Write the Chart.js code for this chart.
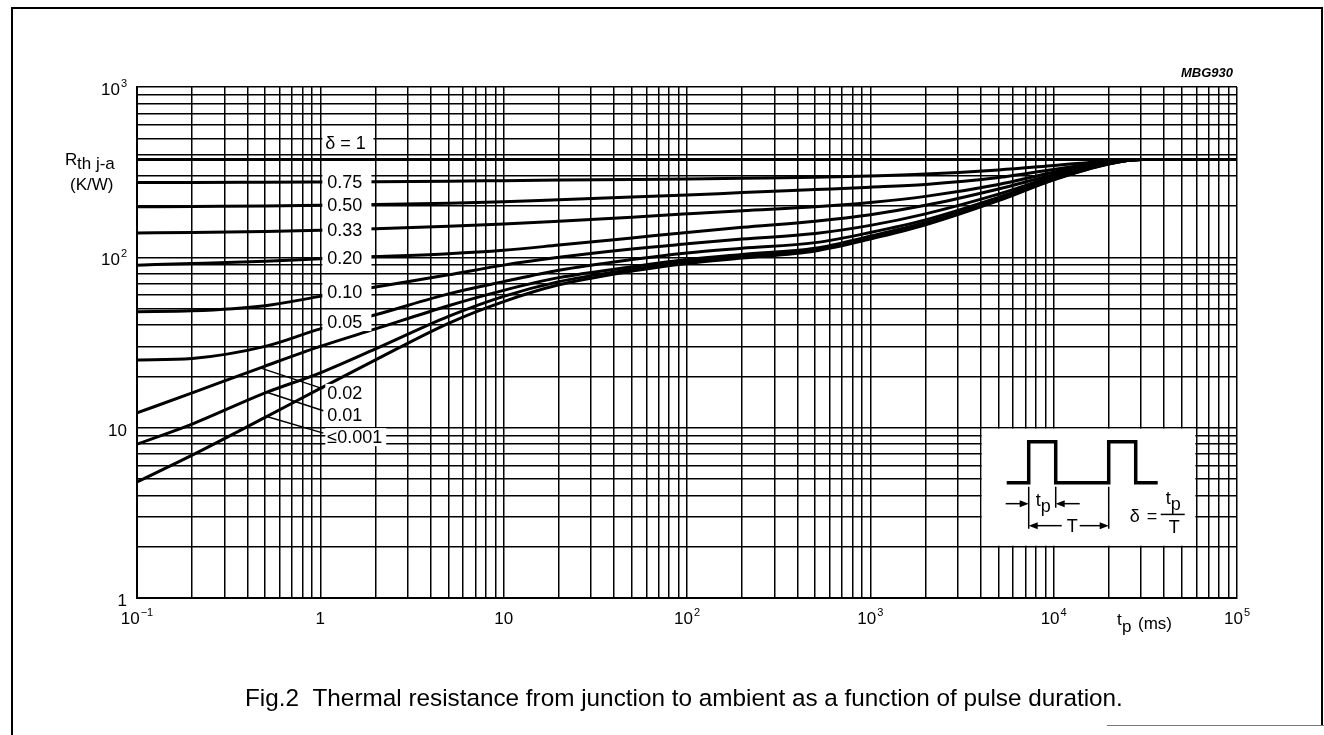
<!DOCTYPE html>
<html>
<head>
<meta charset="utf-8">
<script src="https://cdn.jsdelivr.net/npm/chart.js@4.4.0/dist/chart.umd.min.js"></script>
<style>
  html, body { margin: 0; padding: 0; background: #fff; }
  #wrap { position: relative; width: 1324px; height: 735px; }
</style>
</head>
<body>
<div id="wrap"><canvas id="rth-chart" width="1324" height="735"></canvas></div>
<script>
// pulse duration tp (ms)
const tp = [0.1, 0.2, 0.5, 1, 2, 5, 10, 20, 50, 100, 200, 500, 1000, 2000, 5000, 10000, 20000, 30000, 50000, 100000];

// Rth j-a (K/W), one curve per duty cycle
const d100  = [375, 375, 375, 375, 375, 375, 375, 375, 375, 375, 375, 375, 375, 375, 375, 375, 375, 375, 375, 375];
const d075  = [275, 275, 276, 277, 278, 280, 282, 284, 286, 288, 291, 295, 300, 308, 326, 346, 368, 375, 375, 375];
const d050  = [198, 199, 200, 202, 204, 208, 212, 218, 226, 232, 240, 250, 258, 268, 294, 328, 364, 375, 375, 375];
const d033  = [139, 140, 142, 144, 147, 152, 157, 163, 172, 180, 188, 198, 210, 228, 268, 316, 362, 375, 375, 375];
const d020  = [90, 92, 95, 98, 101, 105, 110, 118, 130, 140, 150, 163, 178, 202, 252, 306, 360, 375, 375, 375];
const d010  = [48, 48.5, 52, 59, 67, 79, 90, 100, 112, 120, 128, 138, 154, 180, 235, 298, 358, 375, 375, 375];
const d005  = [25, 25.5, 30, 38, 46, 61, 72, 84, 97, 106, 113, 122, 140, 166, 225, 292, 356, 375, 375, 375];
const d002  = [12.2, 16, 23, 30, 38, 52, 64, 76, 88, 97, 104, 113, 133, 160, 219, 288, 355, 375, 375, 375];
const d001  = [8, 10.5, 16, 21, 29, 45, 59, 72, 85, 94, 101, 111, 130, 157, 217, 286, 354, 375, 375, 375];
const d0001 = [4.8, 6.9, 11.5, 17, 25, 41, 55, 69, 83, 92, 99, 109, 128, 155, 215, 285, 353, 375, 375, 375];

const curves = [d100, d075, d050, d033, d020, d010, d005, d002, d001, d0001];
const curveLabels = ['δ = 1', '0.75', '0.50', '0.33', '0.20', '0.10', '0.05', '0.02', '0.01', '≤0.001'];

// tick labels (base + exponent)
const xTickValues = [0.1, 1, 10, 100, 1000, 10000, 100000];
const xTickBase = ['10', '1', '10', '10', '10', '10', '10'];
const xTickExp = ['−1', '', '', '2', '3', '4', '5'];
const yTickValues = [1, 10, 100, 1000];
const yTickBase = ['1', '10', '10', '10'];
const yTickExp = ['', '', '2', '3'];

const FONT = '"Liberation Sans", Arial, Helvetica, sans-serif';

// grid lines at 1..9 x 10^n
function logGrid(fromExp, toExp) {
    const vals = [];
    for (let e = fromExp; e < toExp; e++) {
        for (let s = 1; s <= 9; s++) vals.push(+(s * Math.pow(10, e)).toPrecision(3));
    }
    vals.push(Math.pow(10, toExp));
    return vals;
}

// value of a curve at x (log-log interpolation between samples)
function valueAt(series, x) {
    for (let i = 0; i < tp.length - 1; i++) {
        if (x >= tp[i] && x <= tp[i + 1]) {
            const f = Math.log(x / tp[i]) / Math.log(tp[i + 1] / tp[i]);
            return series[i] * Math.pow(series[i + 1] / series[i], f);
        }
    }
    return series[series.length - 1];
}

function drawPow(ctx, base, exp, x, y, align) {
    ctx.font = '17px ' + FONT;
    const wb = ctx.measureText(base).width;
    ctx.font = '11px ' + FONT;
    const we = exp ? ctx.measureText(exp).width + 1 : 0;
    const left = align === 'right' ? x - wb - we : x - (wb + we) / 2;
    ctx.textAlign = 'left';
    ctx.textBaseline = 'alphabetic';
    ctx.font = '17px ' + FONT;
    ctx.fillText(base, left, y);
    if (exp) {
        ctx.font = '11px ' + FONT;
        ctx.fillText(exp, left + wb + 1, y - 8);
    }
}

function arrow(ctx, x1, y, x2) {
    // line from x1 to x2, head at x2
    const dir = x2 > x1 ? 1 : -1;
    ctx.beginPath();
    ctx.moveTo(x1, y);
    ctx.lineTo(x2 - dir * 6, y);
    ctx.stroke();
    ctx.beginPath();
    ctx.moveTo(x2, y);
    ctx.lineTo(x2 - dir * 9, y - 3.5);
    ctx.lineTo(x2 - dir * 9, y + 3.5);
    ctx.closePath();
    ctx.fill();
}

const decorPlugin = {
    id: 'decor',
    afterDatasetsDraw(chart) {
        const ctx = chart.ctx;
        const xs = chart.scales.x, ys = chart.scales.y;
        const area = chart.chartArea;
        ctx.save();
        ctx.fillStyle = '#000';
        ctx.strokeStyle = '#000';

        // curve labels in white boxes
        const boxL = xs.getPixelForValue(1) + 2;
        const boxR = xs.getPixelForValue(1.9);
        curveLabels.forEach((txt, i) => {
            ctx.font = '18px ' + FONT;
            ctx.textAlign = 'left';
            ctx.textBaseline = 'middle';
            if (i === 0) {
                const cy = ys.getPixelForValue(470);
                ctx.fillStyle = '#fff';
                ctx.fillRect(boxL, cy - 11, boxR - boxL + 2, 22);
                ctx.fillStyle = '#000';
                ctx.fillText(txt, boxL + 3, cy + 1);
            } else if (i <= 6) {
                const cy = ys.getPixelForValue(valueAt(curves[i], 1.4));
                ctx.fillStyle = '#fff';
                ctx.fillRect(boxL, cy - 9, boxR - boxL, 18);
                ctx.fillStyle = '#000';
                ctx.fillText(txt, boxL + 5, cy + 1);
            }
        });

        // leader labels for the lowest curves
        const leaderFrom = [0.47, 0.51, 0.51];
        const leaderLabelY = [16, 11.9, 8.8];
        for (let k = 0; k < 3; k++) {
            const i = 7 + k;
            const sx = xs.getPixelForValue(leaderFrom[k]);
            const sy = ys.getPixelForValue(valueAt(curves[i], leaderFrom[k]));
            const ty = ys.getPixelForValue(leaderLabelY[k]);
            ctx.font = '18px ' + FONT;
            const w = ctx.measureText(curveLabels[i]).width;
            ctx.fillStyle = '#fff';
            ctx.fillRect(boxL + 3, ty - 9, w + 6, 18);
            ctx.fillStyle = '#000';
            ctx.lineWidth = 1.5;
            ctx.beginPath();
            ctx.moveTo(sx, sy);
            ctx.lineTo(boxL + 1, ty - 4);
            ctx.stroke();
            ctx.textAlign = 'left';
            ctx.textBaseline = 'middle';
            ctx.fillText(curveLabels[i], boxL + 5, ty + 1);
        }

        // inset: pulse train and duty cycle definition
        const L = xs.getPixelForValue(4000), R = xs.getPixelForValue(60000);
        const T = ys.getPixelForValue(10), B = ys.getPixelForValue(2);
        ctx.fillStyle = '#fff';
        ctx.fillRect(L + 1, T + 1, R - L - 2, B - T - 2);
        ctx.fillStyle = '#000';
        ctx.lineWidth = 3.5;
        ctx.lineJoin = 'miter';
        ctx.beginPath();
        ctx.moveTo(L + 26, T + 55);
        ctx.lineTo(L + 48, T + 55);
        ctx.lineTo(L + 48, T + 14);
        ctx.lineTo(L + 75, T + 14);
        ctx.lineTo(L + 75, T + 55);
        ctx.lineTo(L + 128, T + 55);
        ctx.lineTo(L + 128, T + 14);
        ctx.lineTo(L + 155, T + 14);
        ctx.lineTo(L + 155, T + 55);
        ctx.lineTo(L + 177, T + 55);
        ctx.stroke();
        ctx.lineWidth = 1.5;
        ctx.beginPath();
        ctx.moveTo(L + 48, T + 59); ctx.lineTo(L + 48, T + 101);
        ctx.moveTo(L + 75, T + 59); ctx.lineTo(L + 75, T + 80);
        ctx.moveTo(L + 128, T + 59); ctx.lineTo(L + 128, T + 101);
        ctx.stroke();
        arrow(ctx, L + 25, T + 76, L + 48);
        arrow(ctx, L + 99, T + 76, L + 75);
        arrow(ctx, L + 81, T + 98, L + 48);
        arrow(ctx, L + 99, T + 98, L + 128);
        ctx.textAlign = 'left';
        ctx.textBaseline = 'alphabetic';
        ctx.font = '18px ' + FONT;
        ctx.fillText('t', L + 55, T + 78);
        ctx.fillText('p', L + 60, T + 84);
        ctx.fillText('T', L + 86, T + 104);
        ctx.fillText('δ', L + 149, T + 94);
        ctx.fillText('=', L + 166, T + 94);
        ctx.fillRect(L + 180, T + 86, 24, 1.5);
        ctx.fillText('t', L + 185, T + 76);
        ctx.fillText('p', L + 190, T + 82);
        ctx.fillText('T', L + 188, T + 105);

        // axis tick labels
        ctx.fillStyle = '#000';
        xTickValues.forEach((v, i) => {
            drawPow(ctx, xTickBase[i], xTickExp[i], xs.getPixelForValue(v), area.bottom + 26, 'center');
        });
        yTickValues.forEach((v, i) => {
            drawPow(ctx, yTickBase[i], yTickExp[i], area.left - 10, ys.getPixelForValue(v) + 8, 'right');
        });

        // axis titles
        ctx.font = '17px ' + FONT;
        ctx.textAlign = 'left';
        ctx.fillText('R', 65, 165);
        ctx.fillText('th j-a', 77, 169);
        ctx.fillText('(K/W)', 70, 190);
        ctx.fillText('t', 1117, 625);
        ctx.fillText('p', 1122, 632);
        ctx.fillText('(ms)', 1138, 629);

        // figure code
        ctx.font = 'italic bold 13px ' + FONT;
        ctx.textAlign = 'right';
        ctx.fillText('MBG930', area.right - 4, 77);

        // caption
        ctx.font = '24.3px ' + FONT;
        ctx.textAlign = 'left';
        ctx.fillText('Fig.2  Thermal resistance from junction to ambient as a function of pulse duration.', 245, 706);

        // page frame
        ctx.lineWidth = 2;
        ctx.beginPath();
        ctx.moveTo(12, 735);
        ctx.lineTo(12, 8);
        ctx.lineTo(1322, 8);
        ctx.lineTo(1322, 725);
        ctx.stroke();
        ctx.strokeStyle = '#777';
        ctx.lineWidth = 1;
        ctx.beginPath();
        ctx.moveTo(1107, 725.5);
        ctx.lineTo(1324, 725.5);
        ctx.stroke();
        ctx.restore();
    }
};

const datasets = curves.map((arr, i) => ({
    label: curveLabels[i],
    data: tp.map((x, j) => ({ x: x, y: arr[j] })),
    borderColor: '#000',
    borderWidth: 3,
    pointRadius: 0,
    fill: false,
    cubicInterpolationMode: 'monotone'
}));

const gridStyle = { color: '#000', lineWidth: 1.5, drawTicks: false };

new Chart(document.getElementById('rth-chart').getContext('2d'), {
    type: 'line',
    data: { datasets: datasets },
    options: {
        responsive: false,
        animation: false,
        layout: { padding: { left: 137, right: 87, top: 87, bottom: 137 } },
        plugins: { legend: { display: false }, tooltip: { enabled: false } },
        scales: {
            x: {
                type: 'logarithmic',
                min: 0.1,
                max: 100000,
                ticks: { display: false },
                grid: gridStyle,
                border: { display: true, color: '#000', width: 2 },
                afterBuildTicks: scale => { scale.ticks = logGrid(-1, 5).map(v => ({ value: v })); },
                afterFit: scale => { scale.height = 0; }
            },
            y: {
                type: 'logarithmic',
                min: 1,
                max: 1000,
                ticks: { display: false },
                grid: gridStyle,
                border: { display: true, color: '#000', width: 2 },
                afterBuildTicks: scale => { scale.ticks = logGrid(0, 3).map(v => ({ value: v })); },
                afterFit: scale => { scale.width = 0; }
            }
        }
    },
    plugins: [decorPlugin]
});
</script>
</body>
</html>
